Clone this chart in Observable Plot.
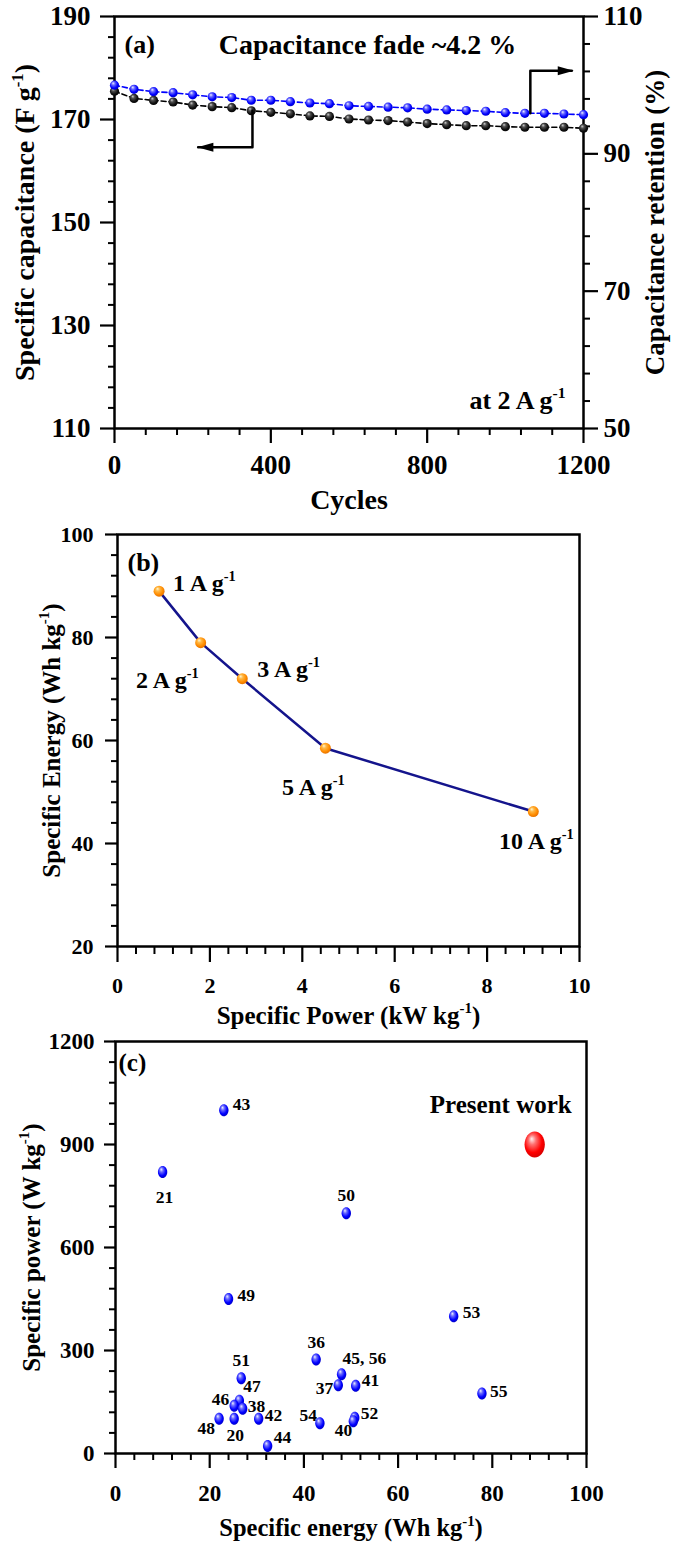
<!DOCTYPE html>
<html><head><meta charset="utf-8">
<script src="https://cdn.jsdelivr.net/npm/d3@7"></script>
<script src="https://cdn.jsdelivr.net/npm/@observablehq/plot@0.6"></script>
<style>
html,body{margin:0;padding:0;background:#fff;overflow:hidden;}
#chart{width:675px;}
#chart svg{display:block;}
</style></head><body><div id="chart"></div>
<script>
// ---------- Panel (a): cycling stability ----------
const cycles = [0,50,100,150,200,250,300,350,400,450,500,550,600,650,700,750,800,850,900,950,1000,1050,1100,1150,1200];
const capacitance = [175.5,174.1,173.7,173.4,172.8,172.5,172.3,171.7,171.4,171.1,170.7,170.6,170.1,169.9,169.8,169.5,169.2,169.0,168.8,168.8,168.6,168.5,168.5,168.5,168.3];
const retention = [100,99.4,99.05,98.9,98.6,98.3,98.2,97.8,97.8,97.6,97.4,97.3,97.0,96.9,96.8,96.7,96.5,96.4,96.3,96.2,96.0,95.9,95.9,95.8,95.7];
const cycleTicks = [0,400,800,1200];
const capacitanceTicks = [110,130,150,170,190];
const retentionTicks = [50,70,90,110];
const capArrowPath = [[353,171.7],[353,164.6],[214,164.6]];
const capArrowTip = [[212,164.6]];
const retArrowPath = [[1064,95.9],[1064,102.1],[1170,102.1]];
const retArrowTip = [[1175,102.1]];
const titlesA = ["Cycles","Specific capacitance (F g⁻¹)","Capacitance retention (%)"];
const notesA = ["Capacitance fade ~4.2 %","at 2 A g⁻¹"];

// ---------- Panel (b): Ragone of this work ----------
const rateLabels = ["1 A g⁻¹","2 A g⁻¹","3 A g⁻¹","5 A g⁻¹","10 A g⁻¹"];
const specificPower = [0.9,1.8,2.7,4.5,9.0];
const specificEnergy = [89,79,72,58.5,46.2];
const powerTicks = [0,2,4,6,8,10];
const energyTicks = [20,40,60,80,100];
const titlesB = ["Specific Power (kW kg⁻¹)","Specific Energy (Wh kg⁻¹)"];

// ---------- Panel (c): comparison with literature ----------
const refLabels = ["43","21","50","49","53","36","51","45, 56","37","41","47","46","38","48","20","42","44","54","52","40","55"];
const refEnergy = [23,10,49,24,71.8,42.6,26.7,48,47.3,51,26.3,25.2,27,22,25.2,30.4,32.3,43.4,50.8,50.5,77.8];
const refPower  = [1000,820,700,450,400,274,219,231,199,197,154,139,130,101,101,101,22,88,104,94,175];
const presentLabel = ["Present work"];
const presentEnergy = [89];
const presentPower = [900];
const ragEnergyTicks = [0,20,40,60,80,100];
const ragPowerTicks = [0,300,600,900,1200];
const titlesC = ["Specific energy (Wh kg⁻¹)","Specific power (W kg⁻¹)"];
const panelTags = ["(a)","(b)","(c)"];

// label placements (screen offsets) kept apart from data
const ratePlacement = [[14,-8,"start"],[-2,38,"end"],[15,-9,"start"],[-12,39,"middle"],[3,30,"middle"]];
const refPlacement = [[9,-6,"start"],[2,25,"middle"],[0,-18,"middle"],[9,-4,"start"],[9,-4,"start"],[0,-17,"middle"],[0,-18,"middle"],[1,-16,"start"],[-5,3,"end"],[6,-5,"start"],[4,-14,"start"],[-5,-6,"end"],[5,-2,"start"],[-4,10,"end"],[1,17,"middle"],[6,-3,"start"],[6,-9,"start"],[-3,-8,"end"],[6,-4,"start"],[-1,9,"end"],[8,-2,"start"]];

// ---------- helpers ----------
const FONT = "'Liberation Serif','Times New Roman',serif";
const NS = "http://www.w3.org/2000/svg";
const baseStyle = {fontFamily: FONT, fontWeight: "bold", color: "#000", background: "#fff", overflow: "visible"};
const ellipse = ratio => ({draw(ctx, size) {
  const r = Math.sqrt(size / Math.PI), rx = r * ratio, ry = r, k = 0.5523;
  ctx.moveTo(rx, 0);
  ctx.bezierCurveTo(rx, k*ry, k*rx, ry, 0, ry);
  ctx.bezierCurveTo(-k*rx, ry, -rx, k*ry, -rx, 0);
  ctx.bezierCurveTo(-rx, -k*ry, -k*rx, -ry, 0, -ry);
  ctx.bezierCurveTo(k*rx, -ry, rx, -k*ry, rx, 0);
  ctx.closePath();
}});
const headRight = {draw(ctx) { ctx.moveTo(0,0); ctx.lineTo(-16,-4.5); ctx.lineTo(-16,4.5); ctx.closePath(); }};
const headLeft  = {draw(ctx) { ctx.moveTo(0,0); ctx.lineTo(16,-4.5); ctx.lineTo(16,4.5); ctx.closePath(); }};
const minor = (lo, hi, step, majorStep) => d3.range(lo, hi + step/2, step).filter(v => Math.abs(((v - lo) / majorStep) - Math.round((v - lo) / majorStep)) > 1e-6);
const plain = d => String(d);

function addGradients(svg, list) {
  const defs = document.createElementNS(NS, "defs");
  for (const [id, stops] of list) {
    const g = document.createElementNS(NS, "radialGradient");
    g.setAttribute("id", id);
    g.setAttribute("cx", "0.45"); g.setAttribute("cy", "0.42"); g.setAttribute("r", "0.62");
    g.setAttribute("fx", "0.35"); g.setAttribute("fy", "0.28");
    stops.forEach(([o, c]) => {
      const s = document.createElementNS(NS, "stop");
      s.setAttribute("offset", o); s.setAttribute("stop-color", c);
      g.appendChild(s);
    });
    defs.appendChild(g);
  }
  svg.insertBefore(defs, svg.firstChild);
}
function supify(svg) {
  for (const el of [...svg.querySelectorAll("text, tspan")]) {
    for (const node of [...el.childNodes]) {
      if (node.nodeType === 3 && node.nodeValue.includes("⁻¹")) {
        const fs = parseFloat(getComputedStyle(el).fontSize) || 20;
        const [a, b] = node.nodeValue.split("⁻¹");
        const frag = document.createDocumentFragment();
        frag.appendChild(document.createTextNode(a));
        const sup = document.createElementNS(NS, "tspan");
        sup.setAttribute("dy", (-0.42 * fs).toFixed(1));
        sup.setAttribute("font-size", (0.6 * fs).toFixed(1));
        sup.textContent = "-1";
        frag.appendChild(sup);
        if (b) {
          const t = document.createElementNS(NS, "tspan");
          t.setAttribute("dy", (0.42 * fs).toFixed(1));
          t.textContent = b;
          frag.appendChild(t);
        }
        el.replaceChild(frag, node);
      }
    }
  }
}
function spacing(svg, label, px) {
  svg.querySelectorAll(`g[aria-label="${label}"] text`).forEach(t => t.setAttribute("letter-spacing", px));
}
const blank = () => "";
const T = {text: d => d, lineAnchor: "middle"};

// ---------- Panel (a) ----------
const toLeft = r => 110 + (r - 50) * 80 / 60;
const toRight = c => 50 + (c - 110) * 60 / 80;
const capData = cycles.map((c, i) => ({cycle: c, value: capacitance[i]}));
const retData = cycles.map((c, i) => ({cycle: c, value: toLeft(retention[i])}));
const pt = ([c, v]) => ({cycle: c, value: v});
const ptR = ([c, v]) => ({cycle: c, value: toLeft(v)});

const plotA = Plot.plot({
  width: 675, height: 520, marginLeft: 114, marginRight: 92, marginTop: 16, marginBottom: 92,
  style: baseStyle,
  x: {domain: [0, 1200], label: null},
  y: {domain: [110, 190], label: null},
  marks: [
    Plot.axisX({ticks: minor(0, 1200, 80, 400), tickSize: 7, tickFormat: blank, strokeWidth: 2, label: null}),
    Plot.axisX({ticks: cycleTicks, tickSize: 15, tickPadding: 11, fontSize: 27, strokeWidth: 2.2, tickFormat: plain, label: null}),
    Plot.axisY({ticks: minor(110, 190, 4, 20), tickSize: 6, tickFormat: blank, strokeWidth: 2, label: null}),
    Plot.axisY({ticks: capacitanceTicks, tickSize: 14, tickPadding: 10, fontSize: 27, strokeWidth: 2.2, tickFormat: plain, label: null}),
    Plot.axisY({anchor: "right", ticks: minor(50, 110, 4, 20).map(toLeft), tickSize: 6, tickFormat: blank, strokeWidth: 2, label: null}),
    Plot.axisY({anchor: "right", ticks: retentionTicks.map(toLeft), tickFormat: d => String(Math.round(toRight(d))), tickSize: 14, tickPadding: 6, fontSize: 27, strokeWidth: 2.2, label: null}),
    Plot.frame({stroke: "#000", strokeWidth: 2.5}),
    Plot.line(capData, {x: "cycle", y: "value", stroke: "#000", strokeWidth: 1.6, strokeDasharray: "5,3"}),
    Plot.line(retData, {x: "cycle", y: "value", stroke: "#0000ff", strokeWidth: 1.6, strokeDasharray: "5,3"}),
    Plot.dot(capData, {x: "cycle", y: "value", r: 4.6, fill: "url(#gA-black)"}),
    Plot.dot(retData, {x: "cycle", y: "value", r: 4.6, fill: "url(#gA-blue)"}),
    Plot.line(capArrowPath.map(pt), {x: "cycle", y: "value", stroke: "#000", strokeWidth: 2.5}),
    Plot.dot(capArrowTip.map(pt), {x: "cycle", y: "value", symbol: headLeft, fill: "#000", r: 5}),
    Plot.line(retArrowPath.map(ptR), {x: "cycle", y: "value", stroke: "#000", strokeWidth: 2.5}),
    Plot.dot(retArrowTip.map(ptR), {x: "cycle", y: "value", symbol: headRight, fill: "#000", r: 5}),
    Plot.text([panelTags[0]], {...T, frameAnchor: "top-left", dx: 10, dy: 28, textAnchor: "start", fontSize: 26}),
    Plot.text([notesA[0]], {...T, frameAnchor: "top-left", dx: 253, dy: 29, textAnchor: "middle", fontSize: 28}),
    Plot.text([notesA[1]], {...T, frameAnchor: "bottom-right", dx: -18, dy: -28, textAnchor: "end", fontSize: 26}),
    Plot.text([titlesA[0]], {...T, frameAnchor: "bottom", dy: 72, textAnchor: "middle", fontSize: 28}),
    Plot.text([titlesA[1]], {...T, frameAnchor: "left", dx: -89, rotate: -90, textAnchor: "middle", fontSize: 28, ariaLabel: "ytitle"}),
    Plot.text([titlesA[2]], {...T, frameAnchor: "right", dx: 72, rotate: -90, textAnchor: "middle", fontSize: 27})
  ]
});

// ---------- Panel (b) ----------
const rateData = rateLabels.map((l, i) => ({label: l, power: specificPower[i], energy: specificEnergy[i]}));
const plotB = Plot.plot({
  width: 675, height: 508, marginLeft: 117, marginRight: 96, marginTop: 14, marginBottom: 82,
  style: baseStyle,
  x: {domain: [0, 10], label: null},
  y: {domain: [20, 100], label: null},
  marks: [
    Plot.axisX({ticks: minor(0, 10, 0.4, 2), tickSize: 8, tickFormat: blank, strokeWidth: 2, label: null}),
    Plot.axisX({ticks: powerTicks, tickSize: 16, tickPadding: 15, fontSize: 22, strokeWidth: 2.2, tickFormat: plain, label: null}),
    Plot.axisY({ticks: minor(20, 100, 4, 20), tickSize: 6, tickFormat: blank, strokeWidth: 2, label: null}),
    Plot.axisY({ticks: energyTicks, tickSize: 12, tickPadding: 12, fontSize: 22, strokeWidth: 2.2, tickFormat: plain, label: null}),
    Plot.frame({stroke: "#000", strokeWidth: 2.5}),
    Plot.line(rateData, {x: "power", y: "energy", stroke: "#14148c", strokeWidth: 2.5}),
    Plot.dot(rateData, {x: "power", y: "energy", r: 5.5, fill: "url(#gB-orange)"}),
    ...rateData.map((d, i) => Plot.text([d], {x: "power", y: "energy", text: "label", dx: ratePlacement[i][0], dy: ratePlacement[i][1], textAnchor: ratePlacement[i][2], fontSize: 24})),
    Plot.text([panelTags[1]], {...T, frameAnchor: "top-left", dx: 10, dy: 28, textAnchor: "start", fontSize: 26}),
    Plot.text([titlesB[0]], {...T, frameAnchor: "bottom", dy: 69, textAnchor: "middle", fontSize: 25}),
    Plot.text([titlesB[1]], {...T, frameAnchor: "left", dx: -66, rotate: -90, textAnchor: "middle", fontSize: 25, ariaLabel: "ytitle"})
  ]
});

// ---------- Panel (c) ----------
const refData = refLabels.map((l, i) => ({label: l, energy: refEnergy[i], power: refPower[i]}));
const presentData = presentLabel.map((l, i) => ({label: l, energy: presentEnergy[i], power: presentPower[i]}));
const plotC = Plot.plot({
  width: 675, height: 521, marginLeft: 115, marginRight: 89, marginTop: 13, marginBottom: 96,
  style: baseStyle,
  x: {domain: [0, 100], label: null},
  y: {domain: [0, 1200], label: null},
  marks: [
    Plot.axisX({ticks: minor(0, 100, 4, 20), tickSize: 7, tickFormat: blank, strokeWidth: 2, label: null}),
    Plot.axisX({ticks: ragEnergyTicks, tickSize: 15, tickPadding: 16, fontSize: 23, strokeWidth: 2.2, tickFormat: plain, label: null}),
    Plot.axisY({ticks: minor(0, 1200, 60, 300), tickSize: 6, tickFormat: blank, strokeWidth: 2, label: null}),
    Plot.axisY({ticks: ragPowerTicks, tickSize: 11, tickPadding: 10, fontSize: 23, strokeWidth: 2.2, tickFormat: plain, label: null}),
    Plot.frame({stroke: "#000", strokeWidth: 2.5}),
    Plot.dot(refData, {x: "energy", y: "power", r: 6, symbol: ellipse(0.78), fill: "url(#gC-blue)"}),
    Plot.dot(presentData, {x: "energy", y: "power", r: 13, symbol: ellipse(0.78), fill: "url(#gC-red)"}),
    ...refData.map((d, i) => Plot.text([d], {x: "energy", y: "power", text: "label", dx: refPlacement[i][0], dy: refPlacement[i][1], textAnchor: refPlacement[i][2], fontSize: 17.5})),
    Plot.text(presentData, {x: "energy", y: "power", text: "label", dx: 37, dy: -40, textAnchor: "end", fontSize: 25}),
    Plot.text([panelTags[2]], {...T, frameAnchor: "top-left", dx: 3, dy: 21, textAnchor: "start", fontSize: 25}),
    Plot.text([titlesC[0]], {...T, frameAnchor: "bottom", dy: 75, textAnchor: "middle", fontSize: 24.5}),
    Plot.text([titlesC[1]], {...T, frameAnchor: "left", dx: -84, rotate: -90, textAnchor: "middle", fontSize: 25, ariaLabel: "ytitle"})
  ]
});

const host = document.getElementById("chart");
[plotA, plotB, plotC].forEach(s => host.appendChild(s));
addGradients(plotA, [
  ["gA-black", [["0", "#d0d0d0"], ["0.3", "#505050"], ["0.7", "#111"], ["1", "#000"]]],
  ["gA-blue", [["0", "#eef0ff"], ["0.3", "#6a6aff"], ["0.7", "#0000ff"], ["1", "#0000c0"]]]
]);
addGradients(plotB, [
  ["gB-orange", [["0", "#fff6d0"], ["0.3", "#ffb845"], ["0.7", "#ff8c00"], ["1", "#e06c00"]]]
]);
addGradients(plotC, [
  ["gC-blue", [["0", "#eef0ff"], ["0.3", "#6a6aff"], ["0.7", "#0000ff"], ["1", "#0000c0"]]],
  ["gC-red", [["0", "#fff0f0"], ["0.3", "#ff7070"], ["0.7", "#ff0000"], ["1", "#d00000"]]]
]);
[plotA, plotB, plotC].forEach(supify);
spacing(plotA, "ytitle", 0.6);
spacing(plotB, "ytitle", 4);
spacing(plotC, "ytitle", 5);
</script></body></html>
